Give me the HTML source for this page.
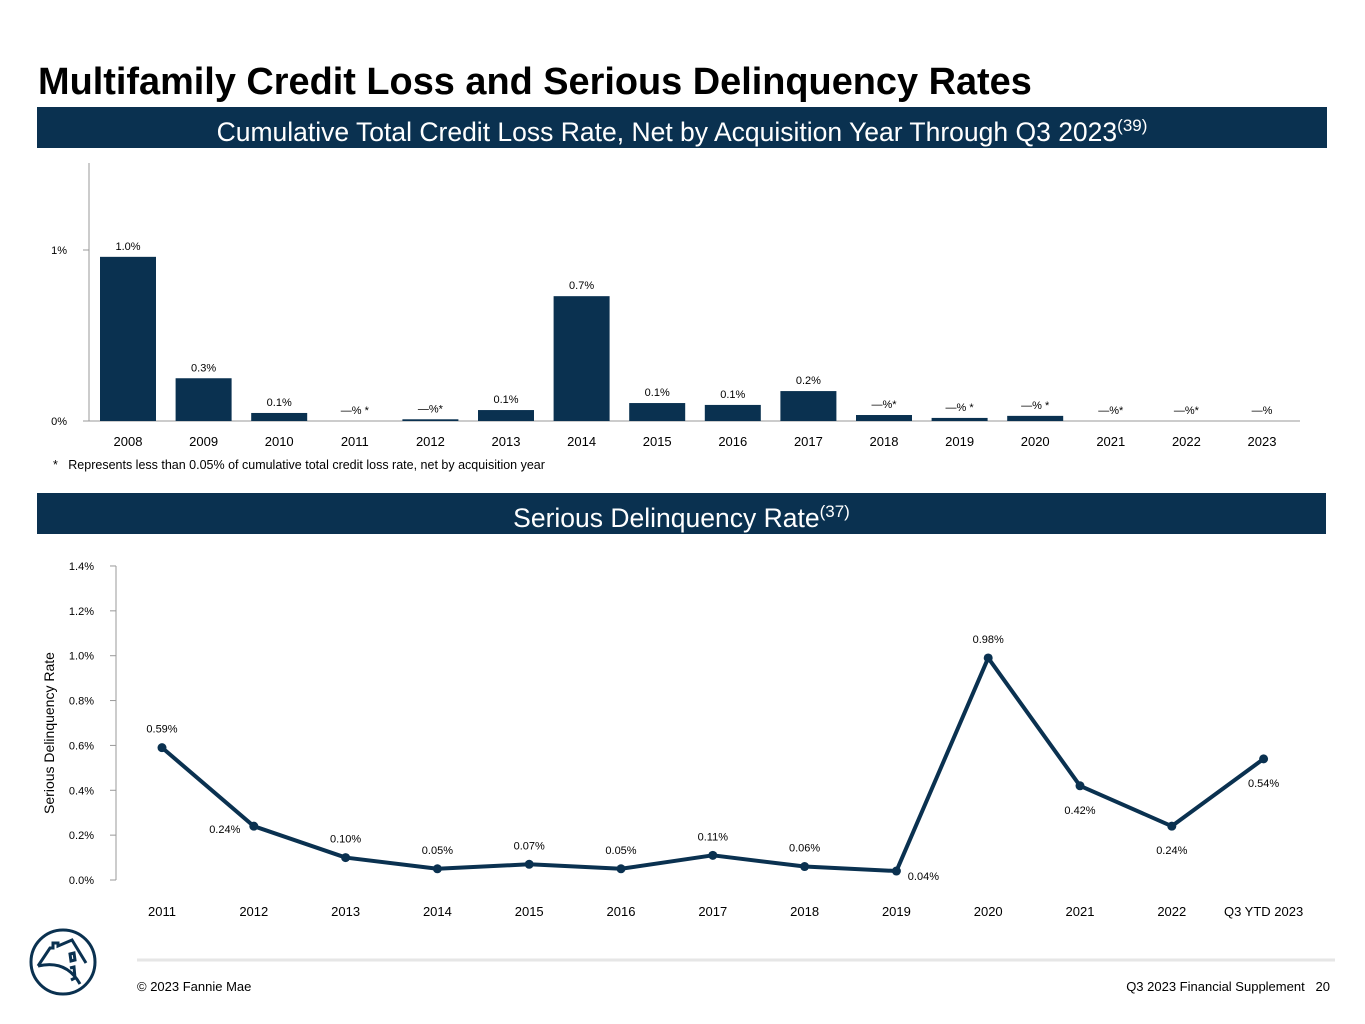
<!DOCTYPE html>
<html><head><meta charset="utf-8"><style>
body{margin:0;width:1365px;height:1024px;background:#fff;font-family:"Liberation Sans",Arial,sans-serif;position:relative;overflow:hidden}
.abs{position:absolute}
.band{position:absolute;background:#0a3150;color:#fff;text-align:center;font-size:26.5px;overflow:hidden}
</style></head><body>
<div class="abs" style="left:38px;top:61px;font-size:37.9px;font-weight:bold;color:#000">Multifamily Credit Loss and Serious Delinquency Rates</div>
<div class="band" style="left:37px;top:107px;width:1290px;height:41px;line-height:38px">Cumulative Total Credit Loss Rate, Net by Acquisition Year Through Q3 2023<sup style="font-size:17px">(39)</sup></div>
<div class="band" style="left:37px;top:493px;width:1289px;height:41px;line-height:38px">Serious Delinquency Rate<sup style="font-size:17px">(37)</sup></div>
<div class="abs" style="left:53px;top:458px;font-size:12.5px;color:#000">*&nbsp;&nbsp; Represents less than 0.05% of cumulative total credit loss rate, net by acquisition year</div>

<svg class="abs" style="left:0;top:0" width="1365" height="1024">
<g id="bars"></g>
<g id="line"></g>
<g fill="none" stroke="#0a3150" stroke-width="3">
<circle cx="63" cy="962" r="32"/>
<path d="M38 966 L50 948 L53 948 L53 943 L58 943 L58 946 L72 940 L86 963 M38 966 C55 962 70 966 80 984 M70 954 L74 953 L75 960 L71 961 Z M70 968 L74 967 L75 978 L71 980"/>
</g>
<line x1="137" y1="960" x2="1335" y2="960" stroke="#e6e6e6" stroke-width="3"/>
</svg>
<div class="abs" style="left:137px;top:979px;font-size:13px">© 2023 Fannie Mae</div>
<div class="abs" style="right:35px;top:979px;font-size:13px">Q3 2023 Financial Supplement&nbsp;&nbsp; 20</div>

<script>
const barYears=['2008','2009','2010','2011','2012','2013','2014','2015','2016','2017','2018','2019','2020','2021','2022','2023'];
const barValues=[0.96,0.25,0.047,0,0.01,0.064,0.73,0.105,0.094,0.175,0.035,0.018,0.03,0,0,0];
const barLabels=['1.0%','0.3%','0.1%','—% *','—%*','0.1%','0.7%','0.1%','0.1%','0.2%','—%*','—% *','—% *','—%*','—%*','—%'];
const barTicks=[0,1];
const lineCats=['2011','2012','2013','2014','2015','2016','2017','2018','2019','2020','2021','2022','Q3 YTD 2023'];
const lineValues=[0.59,0.24,0.10,0.05,0.07,0.05,0.11,0.06,0.04,0.99,0.42,0.24,0.54];
const lineLabels=['0.59%','0.24%','0.10%','0.05%','0.07%','0.05%','0.11%','0.06%','0.04%','0.98%','0.42%','0.24%','0.54%'];
const lineTicks=[0,0.2,0.4,0.6,0.8,1.0,1.2,1.4];
const labelBelow=[false,true,false,false,false,false,false,false,true,false,true,true,true];

const NS='http://www.w3.org/2000/svg';
function mk(p,t,a,txt){const e=document.createElementNS(NS,t);for(const k in a)e.setAttribute(k,a[k]);if(txt!==undefined)e.textContent=txt;p.appendChild(e);return e;}
const bg=document.getElementById('bars');
const by=v=>421-v*171, bx=i=>128+i*75.6;
mk(bg,'line',{x1:89,y1:163,x2:89,y2:421,stroke:'#999'});
mk(bg,'line',{x1:89,y1:421,x2:1300,y2:421,stroke:'#999'});
barTicks.forEach(t=>{mk(bg,'line',{x1:83,y1:by(t),x2:89,y2:by(t),stroke:'#999'});
 const e=mk(bg,'text',{x:67,y:by(t)+4,'font-size':11,'text-anchor':'end'},t+'%');
 
 });
barYears.forEach((y,i)=>{
 const v=barValues[i];
 const r=mk(bg,'rect',{x:bx(i)-28,y:by(v),width:56,height:421-by(v),fill:'#0a3150'});
 
 
 const l=mk(bg,'text',{x:bx(i),y:by(v)-7,'font-size':11,'text-anchor':'middle'},barLabels[i]);
 
 
 const c=mk(bg,'text',{x:bx(i),y:446,'font-size':13,'text-anchor':'middle'},y);
 
 
});
const lg=document.getElementById('line');
const ly=v=>880-v*224.3, lx=i=>162+i*91.8;
mk(lg,'line',{x1:116,y1:566,x2:116,y2:880,stroke:'#999'});
lineTicks.forEach(t=>{mk(lg,'line',{x1:110,y1:ly(t),x2:116,y2:ly(t),stroke:'#999'});
 const e=mk(lg,'text',{x:94,y:ly(t)+4,'font-size':11,'text-anchor':'end'},t.toFixed(1)+'%');
 
 });
const yt=mk(lg,'text',{x:0,y:0,'font-size':14,'text-anchor':'middle',transform:'translate(54,733) rotate(-90)'},'Serious Delinquency Rate');


const pl=mk(lg,'polyline',{points:lineValues.map((v,i)=>lx(i)+','+ly(v)).join(' '),fill:'none',stroke:'#0a3150','stroke-width':4,'stroke-linejoin':'round'});


lineCats.forEach((c,i)=>{
 const v=lineValues[i];
 const p=mk(lg,'circle',{cx:lx(i),cy:ly(v),r:4.5,fill:'#0a3150'});
 
 
 const dx=(i===8?27:(i===1?-29:0));
 const dy=labelBelow[i]?(i===8?9:(i===1?7:28)):-15;
 const l=mk(lg,'text',{x:lx(i)+dx,y:ly(v)+dy,'font-size':11,'text-anchor':'middle'},lineLabels[i]);
 
 
 const t=mk(lg,'text',{x:lx(i),y:916,'font-size':13,'text-anchor':'middle'},c);
 
 
});
</script>
</body></html>
